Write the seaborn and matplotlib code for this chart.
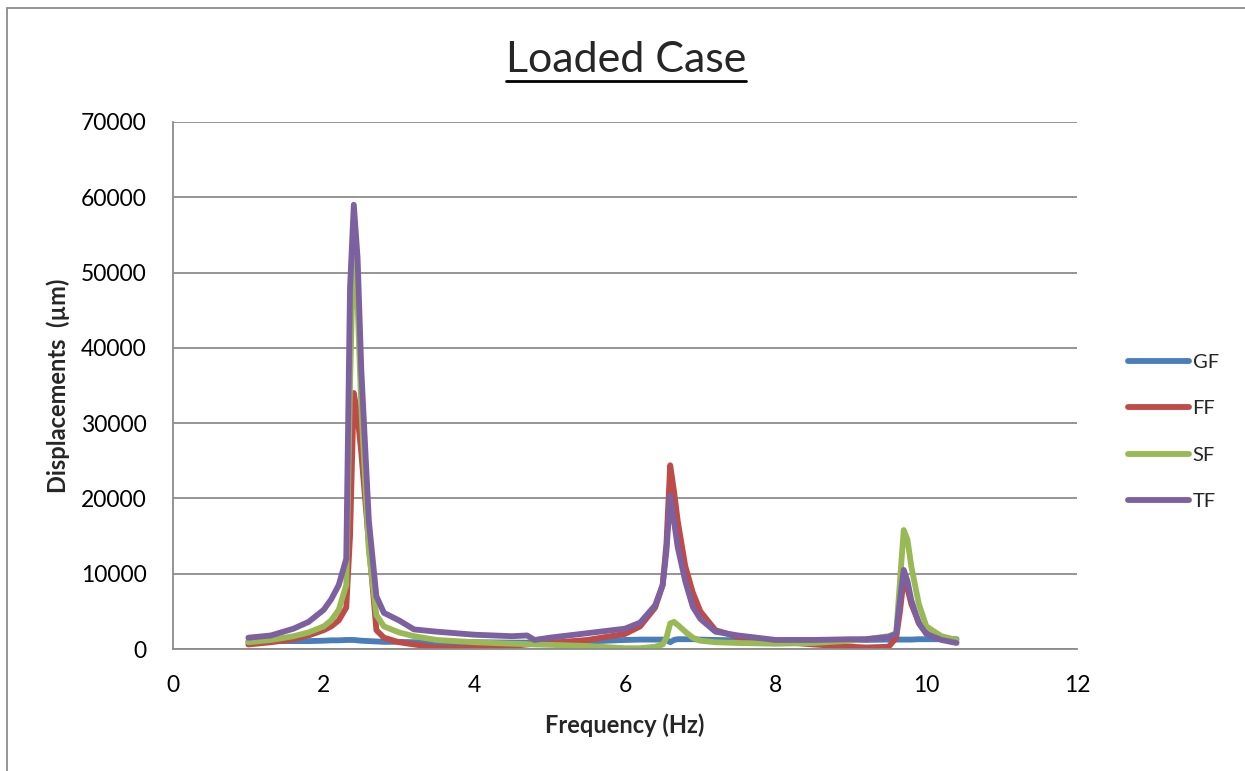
import matplotlib
matplotlib.use("Agg")
import matplotlib.pyplot as plt
import seaborn as sns
import pandas as pd
from matplotlib.lines import Line2D
from matplotlib.patches import Rectangle

freq = [1.0, 1.3, 1.6, 1.8, 2.0, 2.1, 2.2, 2.3, 2.35, 2.4, 2.45, 2.5, 2.6, 2.7, 2.8,
        3.0, 3.2, 3.5, 4.0, 4.5, 4.7, 4.8, 5.0, 5.5, 6.0, 6.2, 6.4, 6.5, 6.55, 6.6,
        6.65, 6.7, 6.8, 6.9, 7.0, 7.2, 7.5, 8.0, 8.5, 9.0, 9.2, 9.5, 9.6, 9.65, 9.7,
        9.75, 9.8, 9.9, 10.0, 10.2, 10.4]

gf = [1000, 1050, 1050, 1050, 1100, 1150, 1150, 1200, 1200, 1200, 1150, 1100, 1050, 1000, 950,
      950, 900, 900, 900, 850, 850, 850, 850, 1000, 1200, 1250, 1250, 1250, 1200, 900,
      1200, 1300, 1300, 1300, 1250, 1200, 1150, 1100, 1100, 1200, 1200, 1250, 1250, 1250, 1250,
      1250, 1250, 1300, 1300, 1300, 1300]

ff = [600, 900, 1300, 1800, 2500, 3000, 3800, 5500, 15000, 34000, 31000, 26000, 14000, 2500, 1500,
      900, 600, 200, 150, 400, 600, 700, 800, 1200, 2000, 3000, 5500, 8500, 14000, 24400,
      21000, 17000, 11000, 7500, 5000, 2500, 1600, 1000, 600, 300, 200, 300, 1500, 5000, 9400,
      8000, 6000, 3500, 2200, 1300, 900]

sf = [900, 1200, 1700, 2200, 3000, 3800, 5200, 8500, 35000, 56000, 46000, 32000, 13000, 4500, 3000,
      2200, 1700, 1200, 900, 700, 650, 600, 550, 400, 100, 100, 300, 600, 1500, 3400,
      3600, 3200, 2300, 1500, 1100, 900, 800, 700, 800, 1100, 1300, 1700, 2100, 9000, 15800,
      14500, 11000, 6000, 3000, 1700, 1200]

tf = [1500, 1800, 2700, 3600, 5200, 6600, 8500, 12000, 48000, 59000, 52000, 37000, 17000, 7000, 4800,
      3800, 2600, 2300, 1900, 1700, 1800, 1200, 1500, 2100, 2700, 3500, 5800, 8500, 13000, 20400,
      17000, 13500, 9000, 5600, 4000, 2300, 1800, 1200, 1200, 1300, 1300, 1600, 2000, 6500, 10500,
      9000, 6500, 3400, 2000, 1200, 800]

series_names = ["GF", "FF", "SF", "TF"]
colors = ["#4A7EBB", "#BE4B48", "#98B954", "#7D60A0"]
x_ticks = [0, 2, 4, 6, 8, 10, 12]
y_ticks = [0, 10000, 20000, 30000, 40000, 50000, 60000, 70000]

rows = []
for name, vals in zip(series_names, [gf, ff, sf, tf]):
    for f, v in zip(freq, vals):
        rows.append({"Frequency": f, "Displacement": v, "Series": name})
df = pd.DataFrame(rows)

sns.set_style("white")
plt.rcParams["font.family"] = ["Lato", "DejaVu Sans"]

fig = plt.figure(figsize=(12.45, 7.71), dpi=100)
ax = fig.add_axes([173 / 1245, 1 - 649 / 771, (1077 - 173) / 1245, (649 - 122) / 771])

sns.lineplot(data=df, x="Frequency", y="Displacement", hue="Series",
             hue_order=series_names, palette=colors, linewidth=4.2,
             sort=False, ax=ax, legend=False)
for ln in ax.get_lines():
    ln.set_solid_capstyle("round")
    ln.set_solid_joinstyle("round")

ax.set_xlim(0, 12)
ax.set_ylim(0, 70000)
ax.set_xticks(x_ticks)
ax.set_yticks(y_ticks)
ax.set_xticklabels([str(t) for t in x_ticks])
ax.set_yticklabels([str(t) for t in y_ticks])
ax.tick_params(axis="both", length=0, labelsize=16.5, colors="black")
ax.tick_params(axis="y", pad=19)
ax.tick_params(axis="x", pad=19)
ax.yaxis.grid(True, color="#8C8C8C", linewidth=1.3)
ax.xaxis.grid(False)
for side in ["top", "right"]:
    ax.spines[side].set_visible(False)
for side in ["left", "bottom"]:
    ax.spines[side].set_color("#8C8C8C")
    ax.spines[side].set_linewidth(1.3)

ax.set_xlabel("Frequency (Hz)", fontsize=17, fontweight="bold", labelpad=12)
ax.set_ylabel("Displacements  (µm)", fontsize=17, fontweight="bold", labelpad=8)

handles = [Line2D([0], [0], color=c, linewidth=4.2, solid_capstyle="round") for c in colors]
leg = fig.legend(handles, series_names, loc="center left",
                 bbox_to_anchor=(1110 / 1245, 1 - 432 / 771), frameon=False,
                 fontsize=14.5, handlelength=3.0, labelspacing=1.45, handletextpad=0.2)

title = fig.text(626 / 1245, 1 - 60 / 771, "Loaded Case", ha="center", va="center",
                 fontsize=31)
fig.canvas.draw()
bb = title.get_window_extent().transformed(fig.transFigure.inverted())
fig.add_artist(Line2D([bb.x0, bb.x1], [bb.y0 - 0.002, bb.y0 - 0.002],
                      transform=fig.transFigure, color="black", linewidth=2))

fig.add_artist(Rectangle((7 / 1245, -0.05), 1.2, 1 - 8 / 771 + 0.05,
                         transform=fig.transFigure, fill=False,
                         edgecolor="#8C8C8C", linewidth=1.3))

fig.savefig("out.png", dpi=100)
